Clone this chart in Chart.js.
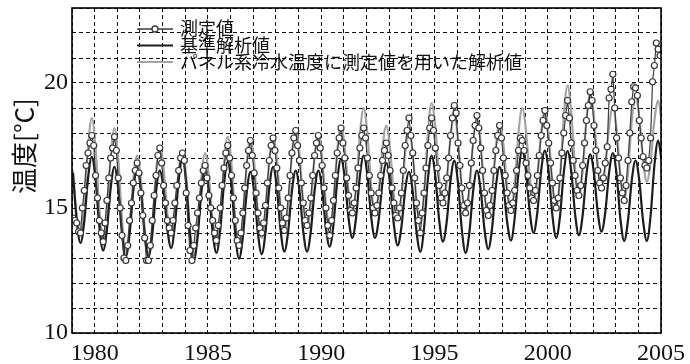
<!DOCTYPE html>
<html lang="ja">
<head>
<meta charset="utf-8">
<title>温度の経年変化</title>
<script src="https://cdn.jsdelivr.net/npm/chart.js@4.4.1/dist/chart.umd.min.js"></script>
<style>
  html, body { margin: 0; padding: 0; background: #fff; }
  #wrap { width: 690px; height: 364px; }
</style>
</head>
<body>
<div id="wrap"><canvas id="chart" width="690" height="364"></canvas></div>
<script>
// 各行 = 1年分 (1979年〜)
const years = [1979, 1980, 1981, 1982, 1983, 1984, 1985, 1986, 1987, 1988, 1989, 1990, 1991,
               1992, 1993, 1994, 1995, 1996, 1997, 1998, 1999, 2000, 2001, 2002, 2003, 2004, 2005];

// 測定値 (月ごと 1〜12月)
const measured = [
  [14.6, 14.5, 14.4, 14.05, 14.0, 15.0, 15.7, 16.7, 17.2, 17.6, 17.9, 17.5],
  [16.3, 15.4, 14.5, 14.0, 13.65, 14.4, 15.3, 16.2, 17.0, 17.4, 17.85, 17.3],
  [16.2, 15.0, 13.9, 13.0, 12.9, 13.5, 14.5, 15.2, 16.0, 16.5, 16.8, 16.4],
  [15.6, 14.7, 13.8, 12.9, 12.9, 13.5, 14.5, 15.5, 16.3, 17.1, 17.4, 16.8],
  [15.9, 15.2, 14.5, 14.2, 14.0, 14.5, 15.2, 15.9, 16.5, 17.0, 17.2, 16.9],
  [15.6, 14.3, 13.3, 12.9, 13.5, 14.2, 14.8, 15.4, 16.0, 16.5, 16.7, 16.2],
  [15.5, 15.0, 14.5, 14.0, 13.7, 14.3, 15.0, 15.9, 16.6, 17.2, 17.5, 17.0],
  [16.3, 15.4, 14.5, 13.7, 13.5, 14.0, 14.8, 15.8, 16.7, 17.3, 17.7, 17.1],
  [16.4, 15.6, 14.8, 14.2, 14.0, 14.4, 15.1, 16.0, 16.9, 17.5, 17.8, 17.3],
  [16.6, 15.8, 15.0, 14.4, 14.1, 14.6, 15.4, 16.3, 17.2, 17.8, 18.1, 17.5],
  [16.9, 16.0, 15.2, 14.5, 14.3, 14.8, 15.4, 16.3, 17.1, 17.6, 17.9, 17.4],
  [16.7, 15.8, 15.0, 14.3, 13.9, 14.5, 15.3, 16.3, 17.2, 17.8, 18.2, 17.6],
  [17.0, 16.2, 15.5, 14.9, 14.8, 15.2, 15.8, 16.6, 17.4, 17.9, 18.2, 17.8],
  [17.0, 16.3, 15.6, 15.0, 14.8, 15.1, 15.6, 16.3, 16.9, 17.3, 17.6, 17.1],
  [16.5, 15.8, 15.2, 14.7, 14.6, 15.0, 15.6, 16.5, 17.5, 18.1, 18.6, 17.9],
  [17.2, 16.2, 15.2, 14.5, 14.0, 14.8, 15.6, 16.6, 17.5, 18.2, 18.6, 18.1],
  [17.4, 16.6, 15.9, 15.4, 15.2, 15.6, 16.2, 17.0, 17.9, 18.6, 19.1, 18.8],
  [17.6, 16.7, 15.8, 15.1, 14.8, 15.2, 15.9, 16.8, 17.7, 18.3, 18.7, 18.2],
  [17.4, 16.5, 15.6, 14.9, 14.7, 15.1, 15.7, 16.5, 17.3, 17.9, 18.3, 17.8],
  [17.0, 16.3, 15.6, 15.1, 14.9, 15.2, 15.7, 16.5, 17.3, 17.8, 17.7, 17.3],
  [16.8, 16.3, 15.8, 15.4, 15.3, 15.7, 16.3, 17.1, 17.9, 18.5, 18.9, 18.3],
  [17.6, 16.8, 16.0, 15.3, 15.0, 15.4, 16.2, 17.2, 18.0, 18.7, 19.3, 18.6],
  [17.6, 16.9, 16.3, 15.7, 15.5, 15.9, 16.7, 17.6, 18.5, 19.1, 19.65, 19.3],
  [18.3, 17.3, 16.5, 16.0, 15.8, 16.2, 16.8, 17.45, 19.4, 19.75, 20.35, 19.0],
  [17.8, 17.0, 16.2, 15.6, 15.3, 15.9, 16.9, 18.0, 19.25, 19.85, 19.8, 19.5],
  [18.5, 17.8, 17.05, 16.7, 16.6, 16.9, 17.8, 20.05, 20.7, 21.6, 21.35, 21.1]
];
const measuredMonths = [0, 1, 2, 3, 4, 5, 6, 7, 8, 9, 10, 11];

// 解析値 (1, 3, 5, 7, 9, 11月)
const lineMonths = [0, 2, 4, 6, 8, 10];

const baseAnalysis = [
  [16.4, 14.5, 13.6, 14.46, 16.19, 17.05],
  [16.11, 14.24, 13.3, 14.14, 15.81, 16.65],
  [15.75, 13.95, 13.05, 13.94, 15.71, 16.6],
  [15.71, 13.94, 13.05, 13.91, 15.64, 16.5],
  [15.73, 14.18, 13.4, 14.3, 16.1, 17.0],
  [15.98, 13.93, 12.9, 13.8, 15.6, 16.5],
  [15.68, 14.03, 13.2, 14.11, 15.94, 16.85],
  [15.88, 13.94, 12.97, 13.84, 15.58, 16.45],
  [15.63, 13.98, 13.15, 14.03, 15.78, 16.65],
  [15.8, 14.1, 13.25, 14.06, 15.69, 16.5],
  [15.69, 14.06, 13.25, 14.06, 15.69, 16.5],
  [15.74, 14.21, 13.45, 14.33, 16.09, 16.97],
  [16.18, 14.59, 13.8, 14.63, 16.28, 17.1],
  [16.28, 14.63, 13.8, 14.55, 16.05, 16.8],
  [15.98, 14.33, 13.5, 14.24, 15.71, 16.45],
  [15.65, 14.05, 13.25, 14.21, 16.14, 17.1],
  [16.24, 14.51, 13.65, 14.46, 16.09, 16.9],
  [15.98, 14.13, 13.2, 14.03, 15.68, 16.5],
  [15.71, 14.14, 13.35, 14.18, 15.83, 16.65],
  [15.91, 14.44, 13.7, 14.6, 16.4, 17.3],
  [16.48, 14.83, 14.0, 14.83, 16.48, 17.3],
  [16.43, 14.68, 13.8, 14.67, 16.41, 17.28],
  [16.44, 14.75, 13.9, 14.71, 16.34, 17.15],
  [16.38, 14.83, 14.05, 14.84, 16.41, 17.2],
  [16.32, 14.56, 13.68, 14.49, 16.1, 16.9],
  [16.1, 14.49, 13.68, 14.69, 16.7, 17.7],
  [16.8]
];

const panelAnalysis = [
  [16.5, 14.7, 14.0, 15.15, 17.45, 18.6],
  [17.38, 14.93, 13.7, 14.83, 17.08, 18.2],
  [16.98, 14.53, 13.3, 14.25, 16.15, 17.1],
  [16.13, 14.18, 13.2, 14.28, 16.43, 17.5],
  [16.6, 14.8, 13.9, 14.75, 16.45, 17.3],
  [16.25, 14.15, 13.1, 14.13, 16.18, 17.2],
  [16.28, 14.43, 13.5, 14.59, 16.76, 17.85],
  [16.74, 14.51, 13.4, 14.5, 16.7, 17.8],
  [16.8, 14.8, 13.8, 14.83, 16.88, 17.9],
  [16.95, 15.05, 14.1, 15.11, 17.14, 18.15],
  [17.16, 15.19, 14.2, 15.15, 17.05, 18.0],
  [17.05, 15.15, 14.2, 15.23, 17.28, 18.3],
  [17.41, 15.64, 14.75, 15.81, 17.94, 19.0],
  [17.95, 15.85, 14.8, 15.68, 17.43, 18.3],
  [17.36, 15.49, 14.55, 15.44, 17.21, 18.1],
  [17.16, 15.29, 14.35, 15.56, 17.99, 19.2],
  [18.19, 16.16, 15.15, 16.04, 17.81, 18.7],
  [17.71, 15.74, 14.75, 15.71, 17.64, 18.6],
  [17.6, 15.6, 14.6, 15.55, 17.45, 18.4],
  [17.54, 15.81, 14.95, 15.96, 17.99, 19.0],
  [18.08, 16.23, 15.3, 16.2, 18.0, 18.9],
  [17.91, 15.94, 14.95, 16.19, 18.66, 19.9],
  [18.79, 16.56, 15.45, 16.49, 18.56, 19.6],
  [18.66, 16.79, 15.85, 16.65, 18.25, 19.05],
  [18.13, 16.28, 15.35, 16.39, 18.46, 19.5],
  [18.64, 16.91, 16.05, 16.86, 18.49, 19.3],
  [18.4]
];

const xLabelYears = [1980, 1985, 1990, 1995, 2000, 2005];
const yLabelValues = [10, 15, 20];
const seriesNames = ['測定値', '基準解析値', 'パネル系冷水温度に測定値を用いた解析値'];
const yTitle = '温度[°C]';

// 行ごとの値を {x: 年(小数), y: 値} に変換
const toPoints = (rows, months) => {
  const pts = [];
  rows.forEach((row, i) => {
    row.forEach((v, j) => {
      pts.push({ x: years[i] + (months[j] + 0.5) / 12, y: v });
    });
  });
  return pts;
};

const MEAS_COLOR = '#3c3c3c';
const BASE_COLOR = '#1c1c1c';
const PANEL_COLOR = '#a3a3a3';
const JP_FONT = "'Noto Sans CJK JP', 'Noto Sans', sans-serif";
const NUM_FONT = "'Liberation Serif', 'DejaVu Serif', serif";

// 枠・凡例・縦軸タイトル
const decorPlugin = {
  id: 'decor',
  afterDraw(chart) {
    const ctx = chart.ctx;
    const a = chart.chartArea;
    ctx.save();
    ctx.strokeStyle = '#000';
    ctx.lineWidth = 1.6;
    ctx.setLineDash([]);
    ctx.strokeRect(a.left, a.top, a.right - a.left, a.bottom - a.top);

    // 凡例
    const x0 = a.left + 65, x1 = a.left + 101, tx = a.left + 108;
    const rows = [a.top + 20, a.top + 37.5, a.top + 54];
    ctx.font = '18px ' + JP_FONT;
    ctx.textBaseline = 'middle';

    ctx.strokeStyle = MEAS_COLOR; ctx.lineWidth = 1.3;
    ctx.beginPath(); ctx.moveTo(x0, rows[0] + 1); ctx.lineTo(x1, rows[0] + 1); ctx.stroke();
    ctx.beginPath(); ctx.arc((x0 + x1) / 2, rows[0] + 1, 3, 0, Math.PI * 2);
    ctx.fillStyle = '#fff'; ctx.fill(); ctx.stroke();

    ctx.strokeStyle = BASE_COLOR; ctx.lineWidth = 2.2;
    ctx.beginPath(); ctx.moveTo(x0, rows[1]); ctx.lineTo(x1, rows[1]); ctx.stroke();

    ctx.strokeStyle = PANEL_COLOR; ctx.lineWidth = 2.2;
    ctx.beginPath(); ctx.moveTo(x0, rows[2]); ctx.lineTo(x1, rows[2]); ctx.stroke();

    ctx.fillStyle = '#111';
    seriesNames.forEach((name, i) => ctx.fillText(name, tx, rows[i]));

    // 縦軸タイトル
    ctx.translate(24, 146);
    ctx.rotate(-Math.PI / 2);
    ctx.textAlign = 'center';
    ctx.font = '26px ' + JP_FONT;
    ctx.fillText(yTitle, 0, 0);
    ctx.restore();
  }
};

new Chart(document.getElementById('chart'), {
  type: 'line',
  data: {
    datasets: [
      {
        label: seriesNames[0],
        data: toPoints(measured, measuredMonths),
        borderColor: MEAS_COLOR,
        borderWidth: 1.2,
        pointRadius: 3,
        pointBorderWidth: 1.2,
        pointBackgroundColor: '#fff',
        pointBorderColor: '#333',
        tension: 0
      },
      {
        label: seriesNames[1],
        data: toPoints(baseAnalysis, lineMonths),
        borderColor: BASE_COLOR,
        borderWidth: 2.2,
        pointRadius: 0,
        cubicInterpolationMode: 'monotone'
      },
      {
        label: seriesNames[2],
        data: toPoints(panelAnalysis, lineMonths),
        borderColor: PANEL_COLOR,
        borderWidth: 2.2,
        pointRadius: 0,
        cubicInterpolationMode: 'monotone'
      }
    ]
  },
  options: {
    responsive: false,
    animation: false,
    devicePixelRatio: 1,
    layout: { padding: { top: 8, right: 29, left: 0, bottom: 0 } },
    plugins: {
      legend: { display: false },
      tooltip: { enabled: false }
    },
    scales: {
      x: {
        type: 'linear',
        min: 1979,
        max: 2005,
        afterFit: (s) => { s.height = 31; s.paddingLeft = 0; s.paddingRight = 0; },
        grid: { color: '#111', lineWidth: 1, drawTicks: false },
        border: { display: false, dash: [4, 3] },
        ticks: {
          stepSize: 1,
          autoSkip: false,
          maxRotation: 0,
          padding: 6,
          color: '#111',
          font: { family: NUM_FONT, size: 24 },
          callback: (v) => xLabelYears.includes(v) ? String(v) : ''
        }
      },
      y: {
        min: 10,
        max: 23,
        afterFit: (s) => { s.width = 72; s.paddingTop = 0; s.paddingBottom = 0; },
        grid: { color: '#111', lineWidth: 1, drawTicks: false },
        border: { display: false, dash: [4, 3] },
        ticks: {
          stepSize: 1,
          autoSkip: false,
          padding: 4,
          color: '#111',
          font: { family: NUM_FONT, size: 24 },
          callback: (v) => yLabelValues.includes(v) ? String(v) : ''
        }
      }
    }
  },
  plugins: [decorPlugin]
});
</script>
</body>
</html>
